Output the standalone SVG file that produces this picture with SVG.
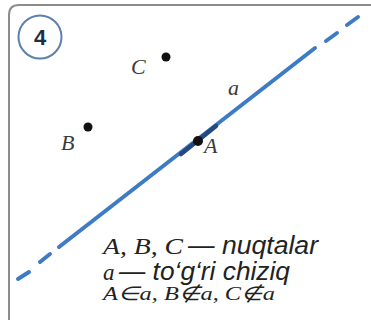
<svg xmlns="http://www.w3.org/2000/svg" width="371" height="323" viewBox="0 0 371 323">
<style>
.frame{fill:none;stroke:#8c8c8c;stroke-width:2}
.ln{stroke:#3d7bc4;stroke-width:4;stroke-linecap:round;fill:none}
.dk{stroke:#23497e;stroke-width:4.5;stroke-linecap:round}
.dot{fill:#111}
.lbl{font-family:"Liberation Serif",serif;font-style:italic;font-size:22px;fill:#3a3a3a}
.ser{font-family:"Liberation Serif",serif;font-style:italic;fill:#222}
.san{font-family:"Liberation Sans",sans-serif;font-style:italic;fill:#222}
</style>
<rect width="371" height="323" fill="#fff"/>
<path class="frame" d="M9,320 V15 Q9,5 19,5 H371"/>
<g id="badge">
<circle cx="40" cy="37" r="21.5" fill="#fff" stroke="#5b80ad" stroke-width="2"/>
<text x="40" y="45" text-anchor="middle" font-family="Liberation Sans,sans-serif" font-weight="bold" font-size="22" fill="#1f2d45">4</text>
</g>
<g id="connectors">
<line class="ln" x1="18" y1="279" x2="29" y2="272"/>
<line class="ln" x1="40" y1="262" x2="50" y2="254"/>
<line class="ln" x1="59" y1="247" x2="315" y2="48"/>
<line class="ln" x1="326" y1="41" x2="337" y2="33"/>
<line class="ln" x1="347" y1="25" x2="358" y2="17"/>
<line class="dk" x1="181" y1="154" x2="216" y2="126"/>
</g>
<g id="line-a"><text class="lbl" x="228" y="95">a</text></g>
<g id="point-A"><circle class="dot" cx="198" cy="141" r="5"/><text class="lbl" x="204" y="153">A</text></g>
<g id="point-B"><circle class="dot" cx="88" cy="127" r="4.5"/><text class="lbl" x="61" y="150">B</text></g>
<g id="point-C"><circle class="dot" cx="166" cy="57" r="4.5"/><text class="lbl" x="131" y="74">C</text></g>
<g id="legend">
<text x="103" y="254"><tspan class="ser" font-size="23" textLength="80" lengthAdjust="spacingAndGlyphs">A, B, C</tspan><tspan class="san" font-size="25" x="188" textLength="130" lengthAdjust="spacingAndGlyphs">— nuqtalar</tspan></text>
<text x="103" y="280"><tspan class="ser" font-size="23">a</tspan><tspan class="san" font-size="25" x="119" textLength="171" lengthAdjust="spacingAndGlyphs">— to‘g‘ri chiziq</tspan></text>
<text class="ser" x="103" y="300" font-size="19" textLength="172" lengthAdjust="spacingAndGlyphs">A∈a, B∉a, C∉a</text>
</g>
</svg>
